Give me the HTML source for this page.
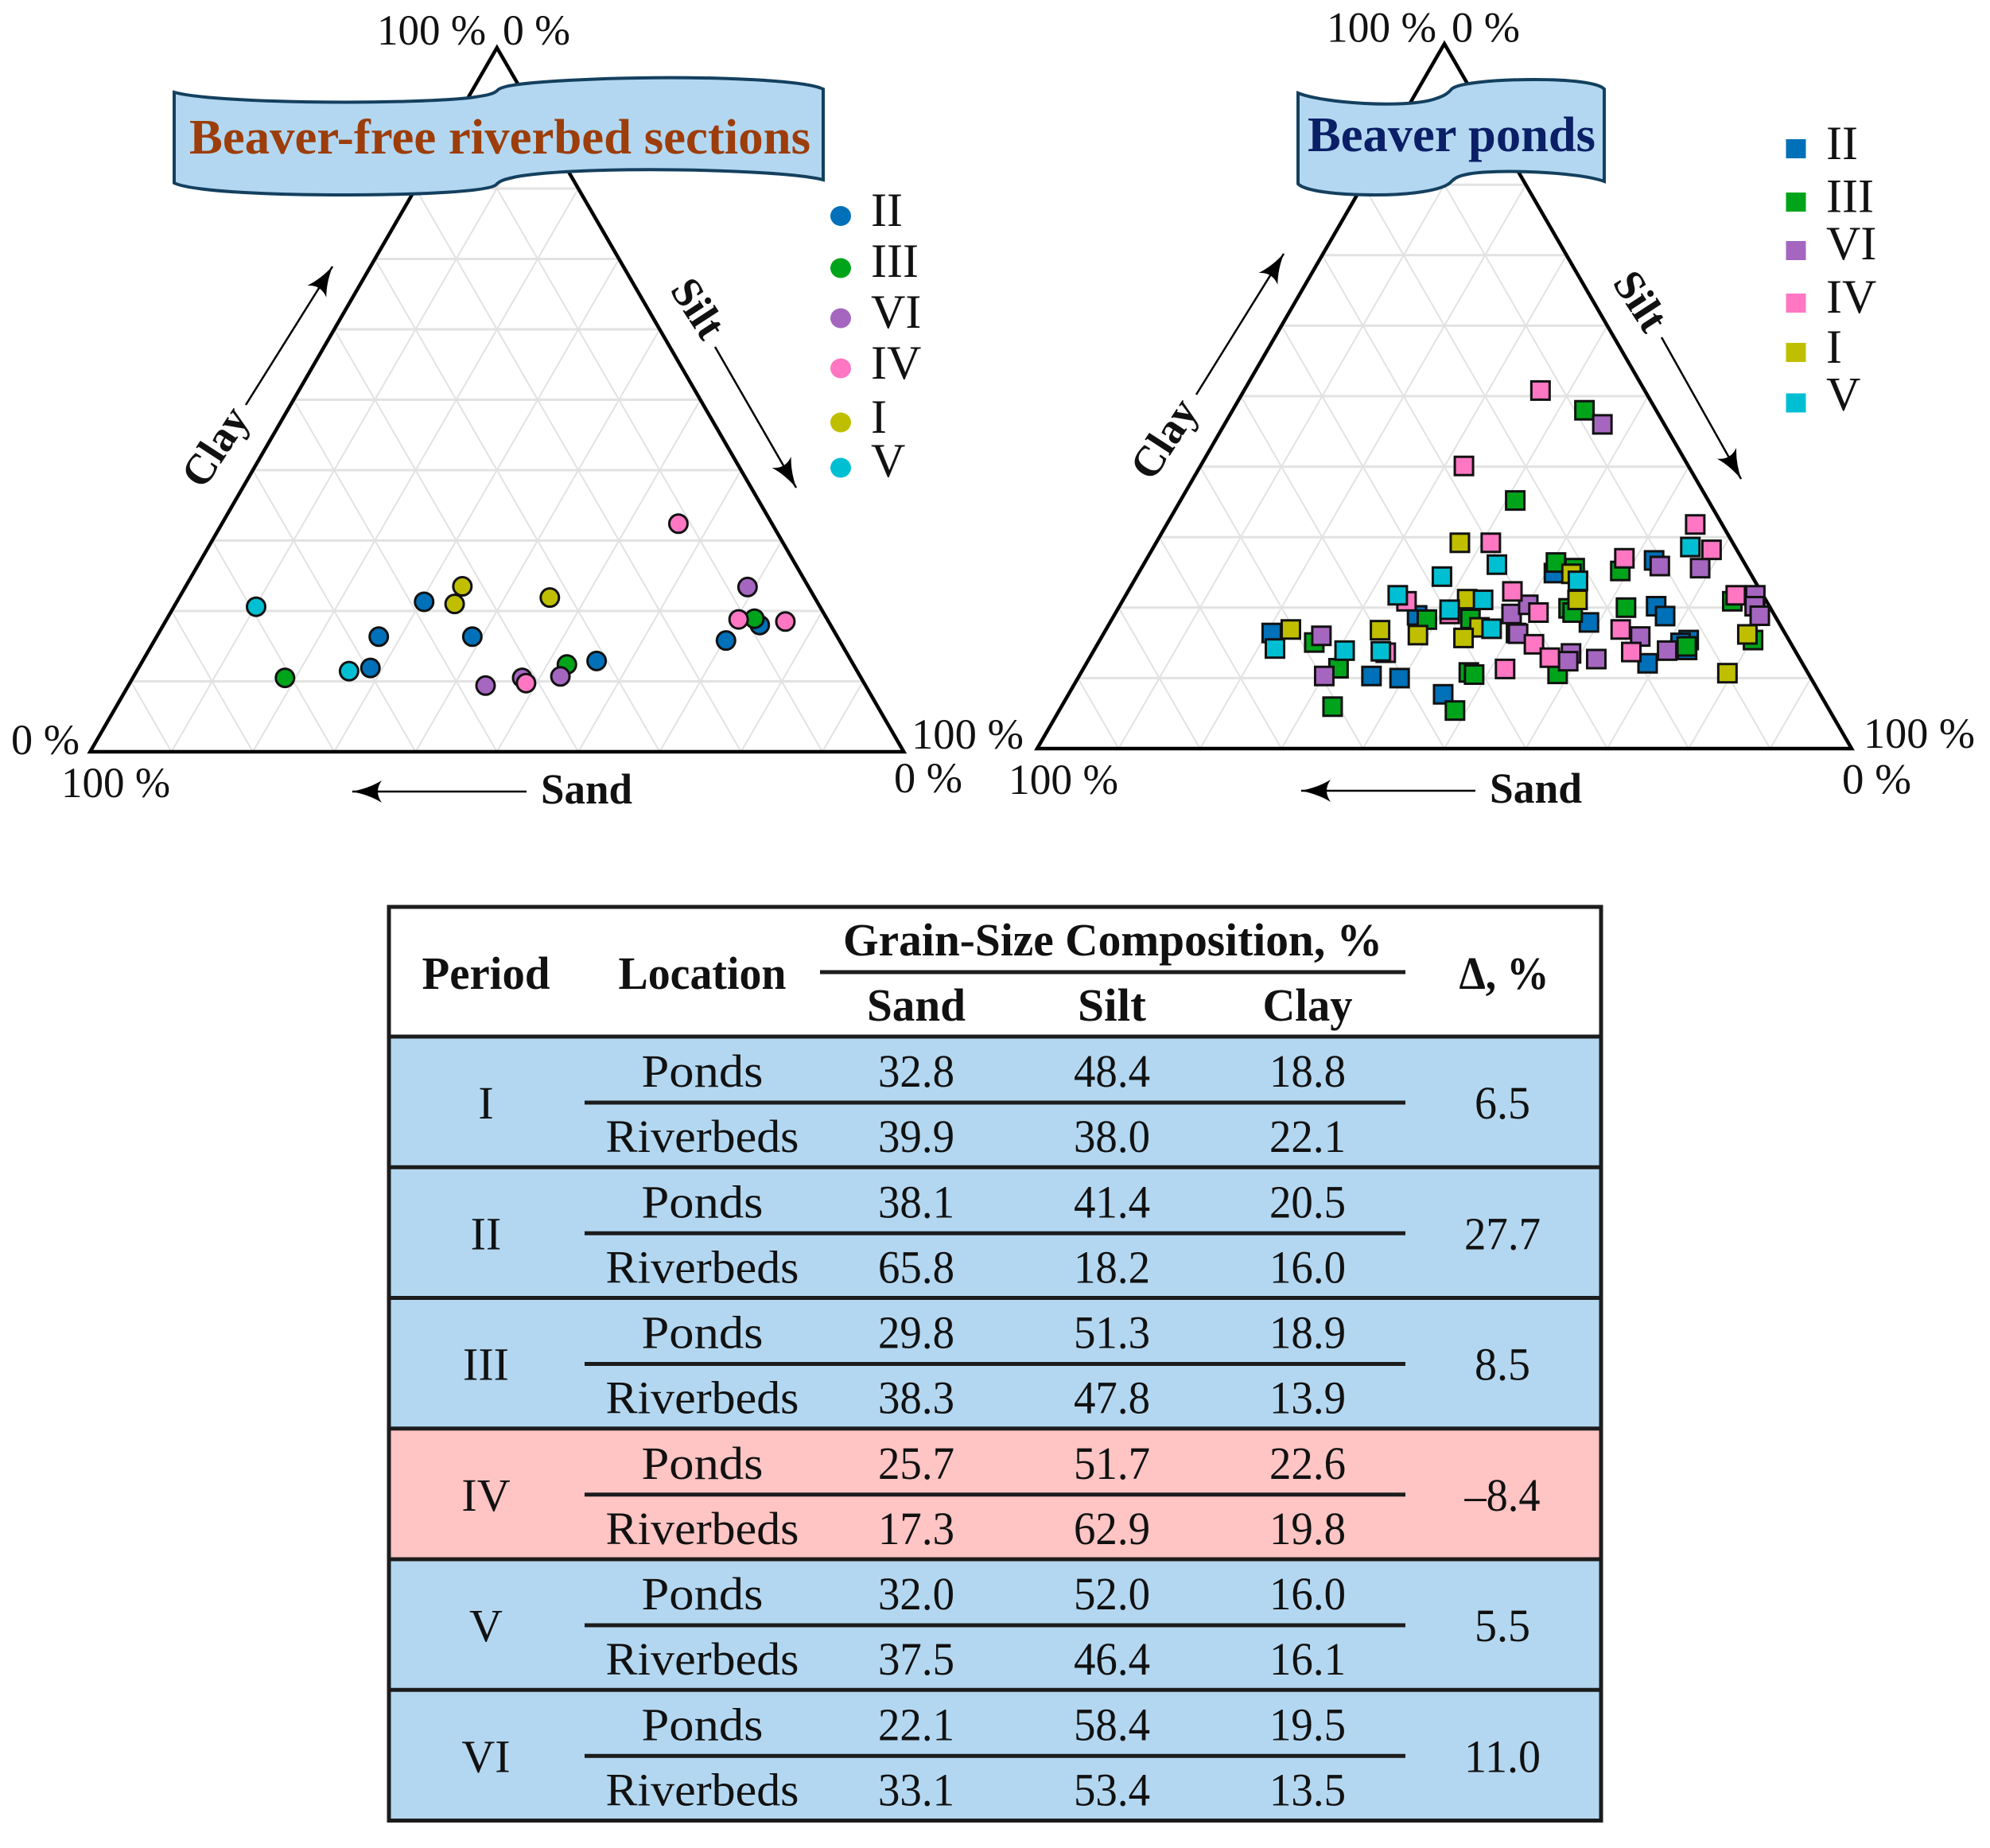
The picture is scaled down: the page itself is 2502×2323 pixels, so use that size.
<!DOCTYPE html>
<html lang="en">
<head>
<meta charset="utf-8">
<title>Grain-size composition of beaver ponds and riverbeds</title>
<style>
html,body{margin:0;padding:0;background:#fff;}
svg{display:block;}
text{font-family:"Liberation Serif",serif;fill:#111;}
.n{font-size:54px;}
.b{font-weight:bold;}
.t{font-size:58px;text-anchor:middle;}
.h{font-size:58px;font-weight:bold;text-anchor:middle;}
.l{font-size:60px;}
.s{stroke:#1c1c1c;stroke-width:5;}
</style>
</head>
<body>
<svg xmlns="http://www.w3.org/2000/svg" width="2502" height="2323" viewBox="0 0 2502 2323">
<defs>
<marker id="head" viewBox="0 0 38 30" refX="37" refY="15" markerWidth="38" markerHeight="30" markerUnits="userSpaceOnUse" orient="auto">
<path d="M0,1 Q16,11 38,15 Q16,19 0,29 Q10,15 0,1 Z" fill="#000"/>
</marker>
</defs>
<rect width="2502" height="2323" fill="#fff"/>

<g id="chart-riverbed"></g>
<g id="chart-ponds"></g>

<!-- Left chart furniture -->
<g>
<path d="M219,116 C270,130 500,132 590,123 C612,120 622,118 626,113 C632,106 680,102 760,99 C880,95 1010,100 1035,112 L1035,226 C980,212 730,208 650,222 C636,225 628,227 624,232 C616,240 540,245 430,245 C330,245 240,240 219,230 Z" fill="#b3d7f0" stroke="#14405f" stroke-width="4"/>
<text x="238" y="193" font-size="62" font-weight="bold" style="fill:#9c3d0a" textLength="781" lengthAdjust="spacingAndGlyphs">Beaver-free riverbed sections</text>
</g>
<g>
<text class="n" x="474" y="56" textLength="137" lengthAdjust="spacingAndGlyphs">100 %</text>
<text class="n" x="632" y="56" textLength="85" lengthAdjust="spacingAndGlyphs">0 %</text>
<text class="n" x="14" y="948" textLength="86" lengthAdjust="spacingAndGlyphs">0 %</text>
<text class="n" x="77" y="1002" textLength="137" lengthAdjust="spacingAndGlyphs">100 %</text>
<text class="n" x="1146" y="941" textLength="141" lengthAdjust="spacingAndGlyphs">100 %</text>
<text class="n" x="1124" y="996" textLength="86" lengthAdjust="spacingAndGlyphs">0 %</text>
<text class="n b" x="680" y="1010" textLength="115" lengthAdjust="spacingAndGlyphs">Sand</text>
<text class="n b" text-anchor="middle" transform="translate(271 562) rotate(-57)" y="17">Clay</text>
<text class="n b" text-anchor="middle" transform="translate(877 388) rotate(57)" y="17">Silt</text>
<line x1="662" y1="995" x2="443" y2="995" stroke="#000" stroke-width="2.5" marker-end="url(#head)"/>
<line x1="309" y1="509" x2="418" y2="335" stroke="#000" stroke-width="2.5" marker-end="url(#head)"/>
<line x1="899" y1="436" x2="1001" y2="613" stroke="#000" stroke-width="2.5" marker-end="url(#head)"/>
</g>
<g>
<ellipse cx="1057" cy="271.5" rx="13" ry="12.5" fill="#0070b8"/>
<text class="l" x="1095" y="284">II</text>
<ellipse cx="1057" cy="337" rx="13" ry="12.5" fill="#00a41a"/>
<text class="l" x="1095" y="348">III</text>
<ellipse cx="1057" cy="400" rx="13" ry="12.5" fill="#a566c0"/>
<text class="l" x="1095" y="412">VI</text>
<ellipse cx="1057" cy="463" rx="13" ry="12.5" fill="#ff77c3"/>
<text class="l" x="1095" y="476">IV</text>
<ellipse cx="1057" cy="531" rx="13" ry="12.5" fill="#bfbf00"/>
<text class="l" x="1095" y="544">I</text>
<ellipse cx="1057" cy="588" rx="13" ry="12.5" fill="#00bfd3"/>
<text class="l" x="1095" y="599">V</text>
</g>

<!-- Right chart furniture -->
<g>
<path d="M1632,117 C1665,130 1765,136 1802,125 C1815,121 1820,118 1825,112 C1832,105 1875,100 1929,100 C1975,100 2010,104 2017,112 L2017,228 C1985,216 1880,212 1845,219 C1835,221 1830,223 1825,228 C1815,240 1770,245 1730,245 C1680,245 1640,240 1632,231 Z" fill="#b3d7f0" stroke="#14405f" stroke-width="4"/>
<text x="1644" y="190" font-size="62" font-weight="bold" style="fill:#0a1f66" textLength="362" lengthAdjust="spacingAndGlyphs">Beaver ponds</text>
</g>
<g>
<text class="n" x="1668" y="52.6" textLength="138" lengthAdjust="spacingAndGlyphs">100 %</text>
<text class="n" x="1825" y="52.6" textLength="86" lengthAdjust="spacingAndGlyphs">0 %</text>
<text class="n" x="1268" y="998" textLength="138" lengthAdjust="spacingAndGlyphs">100 %</text>
<text class="n" x="2343" y="940" textLength="140" lengthAdjust="spacingAndGlyphs">100 %</text>
<text class="n" x="2316" y="997.5" textLength="87" lengthAdjust="spacingAndGlyphs">0 %</text>
<text class="n b" x="1873" y="1009" textLength="116" lengthAdjust="spacingAndGlyphs">Sand</text>
<text class="n b" text-anchor="middle" transform="translate(1464 552) rotate(-57)" y="17">Clay</text>
<text class="n b" text-anchor="middle" transform="translate(2062 379) rotate(57)" y="17">Silt</text>
<line x1="1855" y1="994" x2="1636" y2="994" stroke="#000" stroke-width="2.5" marker-end="url(#head)"/>
<line x1="1504" y1="496" x2="1614" y2="319" stroke="#000" stroke-width="2.5" marker-end="url(#head)"/>
<line x1="2089" y1="424" x2="2189" y2="602" stroke="#000" stroke-width="2.5" marker-end="url(#head)"/>
</g>
<g>
<rect x="2245.5" y="175" width="25" height="24" fill="#0070b8"/>
<text class="l" x="2296" y="200">II</text>
<rect x="2245.5" y="242" width="25" height="24" fill="#00a41a"/>
<text class="l" x="2296" y="266.6">III</text>
<rect x="2245.5" y="303" width="25" height="24" fill="#a566c0"/>
<text class="l" x="2296" y="326">VI</text>
<rect x="2245.5" y="369" width="25" height="24" fill="#ff77c3"/>
<text class="l" x="2296" y="393">IV</text>
<rect x="2245.5" y="431" width="25" height="24" fill="#bfbf00"/>
<text class="l" x="2296" y="456">I</text>
<rect x="2245.5" y="494.5" width="25" height="24" fill="#00bfd3"/>
<text class="l" x="2296" y="515.6">V</text>
</g>

<!-- Table -->
<g>
<rect x="489" y="1303" width="1524" height="657" fill="#b3d7f0"/>
<rect x="489" y="1795.75" width="1524" height="164.25" fill="#ffc4c4"/>
<rect x="489" y="1960" width="1524" height="328.5" fill="#b3d7f0"/>
<rect x="489" y="1140" width="1524" height="1148.5" fill="none" class="s"/>
<line class="s" x1="489" x2="2013" y1="1303" y2="1303"/>
<line class="s" x1="489" x2="2013" y1="1467.25" y2="1467.25"/>
<line class="s" x1="489" x2="2013" y1="1631.5" y2="1631.5"/>
<line class="s" x1="489" x2="2013" y1="1795.75" y2="1795.75"/>
<line class="s" x1="489" x2="2013" y1="1960" y2="1960"/>
<line class="s" x1="489" x2="2013" y1="2124.25" y2="2124.25"/>
<line class="s" x1="1031" x2="1767" y1="1222" y2="1222"/>
<line class="s" x1="735" x2="1767" y1="1386" y2="1386"/>
<line class="s" x1="735" x2="1767" y1="1550.25" y2="1550.25"/>
<line class="s" x1="735" x2="1767" y1="1714.5" y2="1714.5"/>
<line class="s" x1="735" x2="1767" y1="1878.75" y2="1878.75"/>
<line class="s" x1="735" x2="1767" y1="2043" y2="2043"/>
<line class="s" x1="735" x2="1767" y1="2207.25" y2="2207.25"/>

<text class="h" x="611" y="1243" textLength="161" lengthAdjust="spacingAndGlyphs">Period</text>
<text class="h" x="883" y="1243" textLength="211" lengthAdjust="spacingAndGlyphs">Location</text>
<text class="h" x="1399" y="1201" textLength="678" lengthAdjust="spacingAndGlyphs">Grain-Size Composition, %</text>
<text class="h" x="1152" y="1283" textLength="124" lengthAdjust="spacingAndGlyphs">Sand</text>
<text class="h" x="1398" y="1283" textLength="86" lengthAdjust="spacingAndGlyphs">Silt</text>
<text class="h" x="1644" y="1283" textLength="113" lengthAdjust="spacingAndGlyphs">Clay</text>
<text class="h" x="1891" y="1243" textLength="113" lengthAdjust="spacingAndGlyphs">Δ, %</text>

<g>
<text class="t" x="611" y="1406">I</text>
<text class="t" x="883" y="1366" textLength="153" lengthAdjust="spacingAndGlyphs">Ponds</text>
<text class="t" x="1152" y="1366" textLength="96" lengthAdjust="spacingAndGlyphs">32.8</text>
<text class="t" x="1398" y="1366" textLength="96" lengthAdjust="spacingAndGlyphs">48.4</text>
<text class="t" x="1644" y="1366" textLength="96" lengthAdjust="spacingAndGlyphs">18.8</text>
<text class="t" x="883" y="1448" textLength="243" lengthAdjust="spacingAndGlyphs">Riverbeds</text>
<text class="t" x="1152" y="1448" textLength="96" lengthAdjust="spacingAndGlyphs">39.9</text>
<text class="t" x="1398" y="1448" textLength="96" lengthAdjust="spacingAndGlyphs">38.0</text>
<text class="t" x="1644" y="1448" textLength="96" lengthAdjust="spacingAndGlyphs">22.1</text>
<text class="t" x="1889" y="1406" textLength="70" lengthAdjust="spacingAndGlyphs">6.5</text>
</g>
<g>
<text class="t" x="611" y="1570.25">II</text>
<text class="t" x="883" y="1530.25" textLength="153" lengthAdjust="spacingAndGlyphs">Ponds</text>
<text class="t" x="1152" y="1530.25" textLength="96" lengthAdjust="spacingAndGlyphs">38.1</text>
<text class="t" x="1398" y="1530.25" textLength="96" lengthAdjust="spacingAndGlyphs">41.4</text>
<text class="t" x="1644" y="1530.25" textLength="96" lengthAdjust="spacingAndGlyphs">20.5</text>
<text class="t" x="883" y="1612.25" textLength="243" lengthAdjust="spacingAndGlyphs">Riverbeds</text>
<text class="t" x="1152" y="1612.25" textLength="96" lengthAdjust="spacingAndGlyphs">65.8</text>
<text class="t" x="1398" y="1612.25" textLength="96" lengthAdjust="spacingAndGlyphs">18.2</text>
<text class="t" x="1644" y="1612.25" textLength="96" lengthAdjust="spacingAndGlyphs">16.0</text>
<text class="t" x="1889" y="1570.25" textLength="96" lengthAdjust="spacingAndGlyphs">27.7</text>
</g>
<g>
<text class="t" x="611" y="1734.5">III</text>
<text class="t" x="883" y="1694.5" textLength="153" lengthAdjust="spacingAndGlyphs">Ponds</text>
<text class="t" x="1152" y="1694.5" textLength="96" lengthAdjust="spacingAndGlyphs">29.8</text>
<text class="t" x="1398" y="1694.5" textLength="96" lengthAdjust="spacingAndGlyphs">51.3</text>
<text class="t" x="1644" y="1694.5" textLength="96" lengthAdjust="spacingAndGlyphs">18.9</text>
<text class="t" x="883" y="1776.5" textLength="243" lengthAdjust="spacingAndGlyphs">Riverbeds</text>
<text class="t" x="1152" y="1776.5" textLength="96" lengthAdjust="spacingAndGlyphs">38.3</text>
<text class="t" x="1398" y="1776.5" textLength="96" lengthAdjust="spacingAndGlyphs">47.8</text>
<text class="t" x="1644" y="1776.5" textLength="96" lengthAdjust="spacingAndGlyphs">13.9</text>
<text class="t" x="1889" y="1734.5" textLength="70" lengthAdjust="spacingAndGlyphs">8.5</text>
</g>
<g>
<text class="t" x="611" y="1898.75">IV</text>
<text class="t" x="883" y="1858.75" textLength="153" lengthAdjust="spacingAndGlyphs">Ponds</text>
<text class="t" x="1152" y="1858.75" textLength="96" lengthAdjust="spacingAndGlyphs">25.7</text>
<text class="t" x="1398" y="1858.75" textLength="96" lengthAdjust="spacingAndGlyphs">51.7</text>
<text class="t" x="1644" y="1858.75" textLength="96" lengthAdjust="spacingAndGlyphs">22.6</text>
<text class="t" x="883" y="1940.75" textLength="243" lengthAdjust="spacingAndGlyphs">Riverbeds</text>
<text class="t" x="1152" y="1940.75" textLength="96" lengthAdjust="spacingAndGlyphs">17.3</text>
<text class="t" x="1398" y="1940.75" textLength="96" lengthAdjust="spacingAndGlyphs">62.9</text>
<text class="t" x="1644" y="1940.75" textLength="96" lengthAdjust="spacingAndGlyphs">19.8</text>
<text class="t" x="1889" y="1898.75" textLength="95" lengthAdjust="spacingAndGlyphs">–8.4</text>
</g>
<g>
<text class="t" x="611" y="2063">V</text>
<text class="t" x="883" y="2023" textLength="153" lengthAdjust="spacingAndGlyphs">Ponds</text>
<text class="t" x="1152" y="2023" textLength="96" lengthAdjust="spacingAndGlyphs">32.0</text>
<text class="t" x="1398" y="2023" textLength="96" lengthAdjust="spacingAndGlyphs">52.0</text>
<text class="t" x="1644" y="2023" textLength="96" lengthAdjust="spacingAndGlyphs">16.0</text>
<text class="t" x="883" y="2105" textLength="243" lengthAdjust="spacingAndGlyphs">Riverbeds</text>
<text class="t" x="1152" y="2105" textLength="96" lengthAdjust="spacingAndGlyphs">37.5</text>
<text class="t" x="1398" y="2105" textLength="96" lengthAdjust="spacingAndGlyphs">46.4</text>
<text class="t" x="1644" y="2105" textLength="96" lengthAdjust="spacingAndGlyphs">16.1</text>
<text class="t" x="1889" y="2063" textLength="70" lengthAdjust="spacingAndGlyphs">5.5</text>
</g>
<g>
<text class="t" x="611" y="2227.25">VI</text>
<text class="t" x="883" y="2187.25" textLength="153" lengthAdjust="spacingAndGlyphs">Ponds</text>
<text class="t" x="1152" y="2187.25" textLength="96" lengthAdjust="spacingAndGlyphs">22.1</text>
<text class="t" x="1398" y="2187.25" textLength="96" lengthAdjust="spacingAndGlyphs">58.4</text>
<text class="t" x="1644" y="2187.25" textLength="96" lengthAdjust="spacingAndGlyphs">19.5</text>
<text class="t" x="883" y="2269.25" textLength="243" lengthAdjust="spacingAndGlyphs">Riverbeds</text>
<text class="t" x="1152" y="2269.25" textLength="96" lengthAdjust="spacingAndGlyphs">33.1</text>
<text class="t" x="1398" y="2269.25" textLength="96" lengthAdjust="spacingAndGlyphs">53.4</text>
<text class="t" x="1644" y="2269.25" textLength="96" lengthAdjust="spacingAndGlyphs">13.5</text>
<text class="t" x="1889" y="2227.25" textLength="96" lengthAdjust="spacingAndGlyphs">11.0</text>
</g>
</g>

<script>
// Values: each pair is [silt %, clay %]; sand % is the remainder.
const gridTicks = [10, 20, 30, 40, 50, 60, 70, 80, 90];
const seriesNames = ['II', 'III', 'VI', 'IV', 'I', 'V'];
const seriesColors = ['#0070b8', '#00a41a', '#a566c0', '#ff77c3', '#bfbf00', '#00bfd3'];

const riverII = [[30.4,21.3],[27.3,16.35],[38.8,16.35],[28.5,11.9],[55.8,12.9],[70.25,15.8],[73.3,18.0]];
const riverIII = [[18.7,10.5],[52.4,12.4],[72.2,18.9]];
const riverVI = [[69.1,23.4],[47.85,10.5],[52.45,10.7],[43.9,9.4]];
const riverIV = [[56.1,32.4],[70.3,18.8],[76.2,18.5],[48.7,9.75]];
const riverI = [[34.0,23.5],[34.3,21.0],[45.55,21.9]];
const riverV = [[10.1,20.6],[26.1,11.45]];

const pondII = [[20.6,16.4],[37.2,18.9],[51.0,24.9],[62.4,26.7],[65.9,20.2],[67.7,18.8],[58.8,17.9],[50.6,16.4],[35.9,10.3],[39.5,10.0],[46.0,7.7],[68.9,12.1],[72.3,15.4],[71.5,15.0],[72.8,14.0]];
const pondIII = [[26.5,15.05],[31.3,11.4],[33.3,5.95],[38.7,18.3],[44.0,18.4],[47.6,10.8],[48.4,10.5],[48.6,5.4],[50.5,26.4],[53.2,25.6],[59.0,25.2],[55.3,19.9],[56.1,19.3],[62.3,20.0],[74.9,20.9],[80.2,15.4],[72.5,14.5],[58.6,10.6],[43.2,48.0],[41.1,35.2]];
const pondVI = [[26.9,16.0],[30.1,10.3],[48.7,19.1],[50.1,20.4],[50.9,16.3],[58.8,13.5],[59.0,12.4],[62.3,12.7],[66.1,15.9],[70.4,13.9],[63.5,25.9],[68.6,25.6],[77.3,21.75],[78.0,20.2],[79.3,18.85],[46.4,46.0]];
const pondIV = [[64.9,31.8],[41.1,29.2],[58.6,27.0],[68.7,28.2],[47.2,22.3],[74.9,21.75],[34.9,20.9],[51.9,19.3],[63.2,16.9],[53.6,14.8],[56.5,12.9],[66.1,13.7],[51.8,11.3],[36.0,13.6],[41.1,19.1],[36.4,50.8],[32.35,40.1]];
const pondI = [[22.7,16.9],[37.3,29.2],[53.2,24.8],[55.8,21.1],[33.7,16.8],[42.2,21.2],[38.7,16.1],[45.7,17.2],[44.5,15.7],[79.1,16.2],[79.4,10.7]];
const pondV = [[22.1,14.2],[30.8,13.9],[35.3,13.8],[33.4,21.75],[37.5,24.4],[43.4,26.1],[54.5,23.8],[65.9,28.6],[40.8,19.7],[44.2,21.1],[47.3,17.0]];

const riverSeries = [riverII, riverIII, riverVI, riverIV, riverI, riverV];
const pondSeries = [pondII, pondIII, pondVI, pondIV, pondI, pondV];

const SVG_NS = 'http://www.w3.org/2000/svg';

function makeAxis(left, base, side, height) {
  return {
    x: function (silt, clay) { return left + side * (silt + clay / 2) / 100; },
    y: function (clay) { return base - height * clay / 100; }
  };
}

function addLine(parent, x1, y1, x2, y2, width) {
  const el = document.createElementNS(SVG_NS, 'line');
  el.setAttribute('x1', x1);
  el.setAttribute('y1', y1);
  el.setAttribute('x2', x2);
  el.setAttribute('y2', y2);
  el.setAttribute('stroke', '#e2e2e2');
  el.setAttribute('stroke-width', width);
  
  
  parent.appendChild(el);
}

function drawGrid(parent, ax) {
  gridTicks.forEach(function (t) {
    // constant clay
    addLine(parent, ax.x(0, t), ax.y(t), ax.x(100 - t, t), ax.y(t), 3);
    // constant silt
    addLine(parent, ax.x(t, 0), ax.y(0), ax.x(t, 100 - t), ax.y(100 - t), 2);
    // constant sand
    addLine(parent, ax.x(100 - t, 0), ax.y(0), ax.x(0, 100 - t), ax.y(100 - t), 2);
  });
}

function drawFrame(parent, ax) {
  const el = document.createElementNS(SVG_NS, 'polygon');
  const pts = [[0, 0], [100, 0], [0, 100]].map(function (p) {
    return ax.x(p[0], p[1]) + ',' + ax.y(p[1]);
  }).join(' ');
  el.setAttribute('points', pts);
  el.setAttribute('fill', 'none');
  el.setAttribute('stroke', '#000');
  el.setAttribute('stroke-width', '4.5');
  el.setAttribute('stroke-linejoin', 'miter');
  
  
  parent.appendChild(el);
}

function drawCircle(parent, ax, p, color, name) {
  const el = document.createElementNS(SVG_NS, 'circle');
  el.setAttribute('cx', ax.x(p[0], p[1]));
  el.setAttribute('cy', ax.y(p[1]));
  el.setAttribute('r', '11.5');
  el.setAttribute('fill', color);
  el.setAttribute('stroke', '#111');
  el.setAttribute('stroke-width', '3');
  
  
  parent.appendChild(el);
}

function drawSquare(parent, ax, p, color, name) {
  const el = document.createElementNS(SVG_NS, 'rect');
  el.setAttribute('x', ax.x(p[0], p[1]) - 11.5);
  el.setAttribute('y', ax.y(p[1]) - 11.5);
  el.setAttribute('width', '23');
  el.setAttribute('height', '23');
  el.setAttribute('fill', color);
  el.setAttribute('stroke', '#111');
  el.setAttribute('stroke-width', '3');
  
  
  parent.appendChild(el);
}

const riverAxis = makeAxis(113.3, 945, 1023, 885);
const pondAxis = makeAxis(1304, 941, 1024, 886);
const riverGroup = document.getElementById('chart-riverbed');
const pondGroup = document.getElementById('chart-ponds');

drawGrid(riverGroup, riverAxis);
drawFrame(riverGroup, riverAxis);
riverSeries.forEach(function (series, i) {
  series.forEach(function (p) {
    drawCircle(riverGroup, riverAxis, p, seriesColors[i], 'riverbed-point-' + seriesNames[i].toLowerCase());
  });
});

drawGrid(pondGroup, pondAxis);
drawFrame(pondGroup, pondAxis);
pondSeries.forEach(function (series, i) {
  series.forEach(function (p) {
    drawSquare(pondGroup, pondAxis, p, seriesColors[i], 'pond-point-' + seriesNames[i].toLowerCase());
  });
});
</script>
</svg>
</body>
</html>
